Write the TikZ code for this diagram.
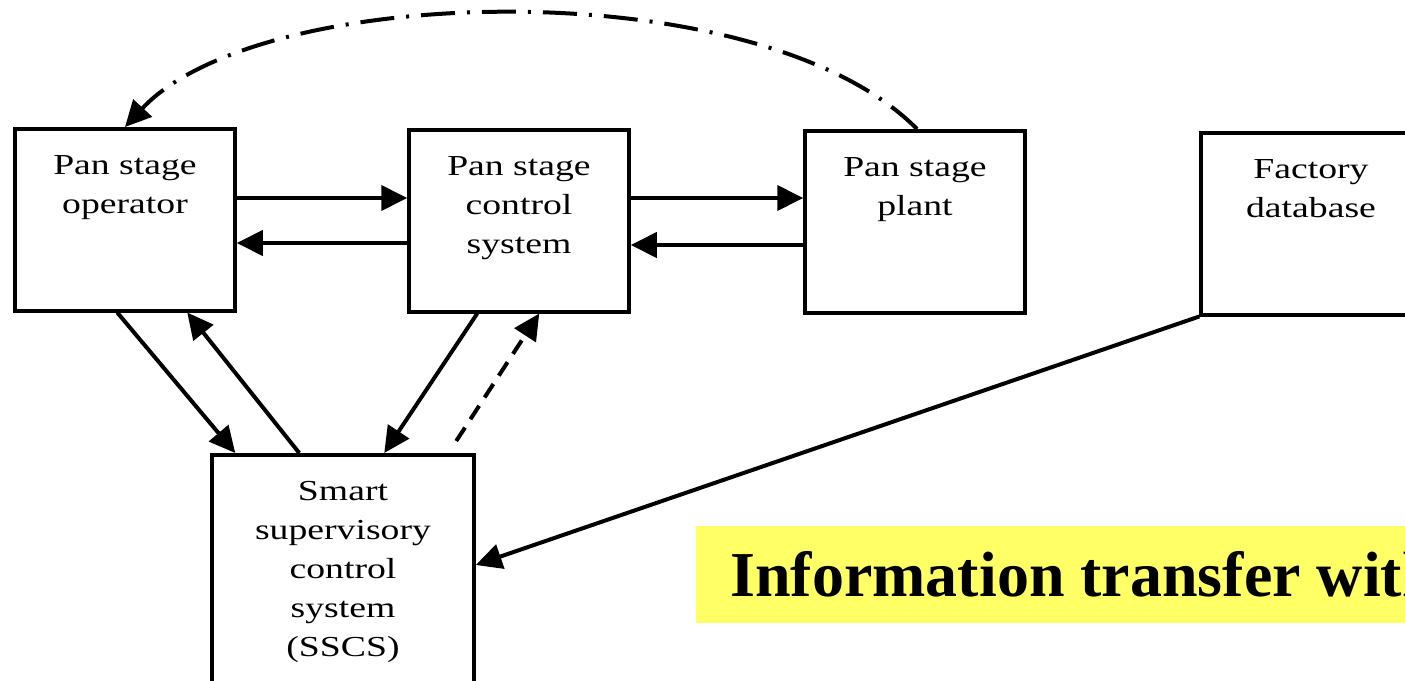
\documentclass[tikz,border=0pt]{standalone}
\usepackage{fontspec}
\setmainfont{Liberation Serif}[FakeStretch=1.3]
\newfontfamily\titlefont{Liberation Serif}
\usepackage{tikz}
\usetikzlibrary{arrows.meta, positioning, calc}
\definecolor{hilite}{HTML}{FFFF66}

\begin{document}
\begin{tikzpicture}[x=0.5pt,y=-0.5pt,
	blk/.style={draw,line width=1.75pt,minimum width=110pt,minimum height=91pt,anchor=north,inner sep=0pt},
	txt/.style={align=center,inner sep=0pt,anchor=north,font=\fontsize{14.5pt}{19.5pt}\selectfont},
	flow/.style={line width=2pt,-{Triangle[length=13pt,width=12.5pt]}}]
	\useasboundingbox (0,0) rectangle (1405,681);
	\clip (0,0) rectangle (1405,681);
	\node[blk] (op) at (125,127) {};
	\node[blk] (ctl) at (519,128) {};
	\node[blk] (plant) at (915,129) {};
	\node[blk] (fdb) at (1311,131) {};
	\node[blk,minimum width=131pt,minimum height=200pt] (sscs) at (343,453) {};
	\node[txt,below=14pt of op.north] (opt) {Pan stage\\operator};
	\node[txt,below=14pt of ctl.north] (ctlt) {Pan stage\\control\\system};
	\node[txt,below=14pt of plant.north] (plantt) {Pan stage\\plant};
	\node[txt,below=14pt of fdb.north] (fdbt) {Factory\\database};
	\node[txt,below=14pt of sscs.north] (sscst) {Smart\\supervisory\\control\\system\\(SSCS)};
	\node[fill=hilite,anchor=west,minimum height=48.5pt,inner xsep=17pt,font={\titlefont\bfseries\fontsize{32pt}{38pt}\selectfont}] (ttl) at (696,574.5) {Information transfer with};
	\draw[flow] ($(op.north east)+(0,71)$) -- ($(ctl.north west)+(0,70)$);
	\draw[flow] ($(ctl.north west)+(0,115)$) -- ($(op.north east)+(0,116)$);
	\draw[flow] ($(ctl.north east)+(0,70)$) -- ($(plant.north west)+(0,69)$);
	\draw[flow] ($(plant.north west)+(0,116)$) -- ($(ctl.north east)+(0,117)$);
	\draw[flow] ($(op.south west)+(104,0)$) -- ($(sscs.north west)+(25,0)$);
	\draw[flow] ($(sscs.north west)+(89,0)$) -- ($(op.south west)+(174,0)$);
	\draw[flow] ($(ctl.south west)+(70,0)$) -- ($(sscs.north west)+(174,0)$);
	\draw[flow,dash pattern=on 8pt off 5pt] ($(sscs.north west)+(246,-12)$) -- ($(ctl.south west)+(132,0)$);
	\draw[flow] (fdb.south west) -- ($(sscs.north east)+(0,112)$);
	\draw[flow,dash pattern=on 17pt off 6pt on 1.5pt off 6pt] ($(plant.north)+(2,0)$) .. controls (760,-30) and (260,-18) .. (op.north);
\end{tikzpicture}
\end{document}
